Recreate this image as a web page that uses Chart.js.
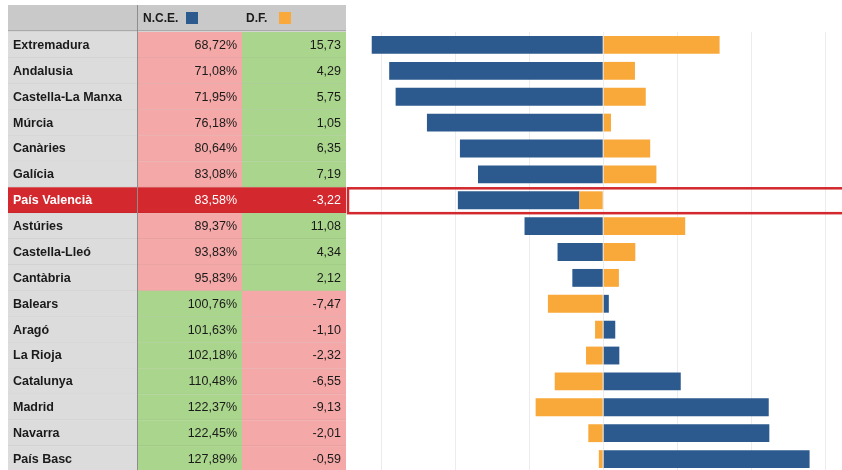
<!DOCTYPE html>
<html>
<head>
<meta charset="utf-8">
<script src="https://cdn.jsdelivr.net/npm/chart.js"></script>
<style>
  html, body { margin: 0; padding: 0; background: #fff; overflow: hidden; }
  #wrap { width: 842px; height: 480px; }
</style>
</head>
<body>
<div id="wrap"><canvas id="chart" width="842" height="480"></canvas></div>
<script>
const regions = ['Extremadura', 'Andalusia', 'Castella-La Manxa', 'Múrcia', 'Canàries', 'Galícia',
    'País Valencià', 'Astúries', 'Castella-Lleó', 'Cantàbria', 'Balears', 'Aragó', 'La Rioja',
    'Catalunya', 'Madrid', 'Navarra', 'País Basc'];
const nce = [68.72, 71.08, 71.95, 76.18, 80.64, 83.08, 83.58, 89.37, 93.83, 95.83,
    100.76, 101.63, 102.18, 110.48, 122.37, 122.45, 127.89];
const df = [15.73, 4.29, 5.75, 1.05, 6.35, 7.19, -3.22, 11.08, 4.34, 2.12,
    -7.47, -1.10, -2.32, -6.55, -9.13, -2.01, -0.59];
const gridValues = [-30, -20, -10, 0, 10, 20, 30];
const highlightRow = 6;

const blue = '#2c5a8e';
const orange = '#f9a83a';
const pink = '#f4a8a7';
const green = '#a9d58c';
const red = '#d2282e';

const fmt = (v) => v.toFixed(2).replace('.', ',');

// Table on the left + highlight box, drawn against the y scale
const tablePlugin = {
    id: 'tablePanel',
    afterDraw(chart) {
        const ctx = chart.ctx;
        const y = chart.scales.y;
        const band = y.height / regions.length;
        const cols = [8, 138, 242, 346];
        ctx.save();

        // header
        ctx.fillStyle = '#c9c9c9';
        ctx.fillRect(cols[0], 5, cols[3] - cols[0], 26);
        ctx.fillStyle = '#a9a9a9';
        ctx.fillRect(cols[0], 30, cols[3] - cols[0], 1.5);
        ctx.font = 'bold 12px "Liberation Sans", Arial, sans-serif';
        ctx.textBaseline = 'middle';
        ctx.fillStyle = '#1a1a1a';
        ctx.fillText('N.C.E.', 143, 18.5);
        ctx.fillText('D.F.', 246, 18.5);
        ctx.fillStyle = blue;
        ctx.fillRect(186, 12, 12, 12);
        ctx.fillStyle = orange;
        ctx.fillRect(279, 12, 12, 12);

        regions.forEach((name, i) => {
            const cy = y.getPixelForValue(i);
            const top = cy - band / 2;
            const hl = i === highlightRow;
            ctx.fillStyle = hl ? red : '#dcdcdc';
            ctx.fillRect(cols[0], top, cols[1] - cols[0], band);
            ctx.fillStyle = hl ? red : (nce[i] < 100 ? pink : green);
            ctx.fillRect(cols[1], top, cols[2] - cols[1], band);
            ctx.fillStyle = hl ? red : (df[i] < 0 ? pink : green);
            ctx.fillRect(cols[2], top, cols[3] - cols[2], band);

            // row separator
            ctx.fillStyle = 'rgba(0,0,0,0.10)';
            ctx.fillRect(cols[0], top + band - 0.5, cols[3] - cols[0], 1);

            ctx.fillStyle = hl ? '#ffffff' : '#1a1a1a';
            ctx.font = 'bold 12.5px "Liberation Sans", Arial, sans-serif';
            ctx.textAlign = 'left';
            ctx.fillText(name, 13, cy + 0.5);
            ctx.font = '12.5px "Liberation Sans", Arial, sans-serif';
            ctx.textAlign = 'right';
            ctx.fillText(fmt(nce[i]) + '%', 237, cy + 0.5);
            ctx.fillText(fmt(df[i]), 341, cy + 0.5);
        });

        // column divider
        ctx.fillStyle = '#8d8d8d';
        ctx.fillRect(cols[1] - 1, 5, 1, chart.height);

        // highlight box across the chart
        const hy = y.getPixelForValue(highlightRow);
        ctx.strokeStyle = red;
        ctx.lineWidth = 2.5;
        ctx.strokeRect(348, hy - band / 2 + 1, 500, band - 1);
        ctx.restore();
    },
};

new Chart(document.getElementById('chart').getContext('2d'), {
    type: 'bar',
    data: {
        labels: regions,
        datasets: [{
            label: 'D.F.',
            data: df,
            backgroundColor: orange,
        }, {
            label: 'N.C.E.',
            data: nce.map((v) => v - 100),
            backgroundColor: blue,
        }],
    },
    options: {
        indexAxis: 'y',
        responsive: false,
        animation: false,
        layout: { padding: { left: 359, right: 2, top: 32, bottom: 8 } },
        datasets: { bar: { categoryPercentage: 1, barPercentage: 0.69 } },
        scales: {
            x: {
                stacked: true,
                min: -33,
                max: 32,
                ticks: { display: false },
                afterBuildTicks(scale) {
                    scale.ticks = gridValues.map((v) => ({ value: v }));
                },
                grid: { color: '#ececec', drawTicks: false },
                border: { display: false },
            },
            y: {
                stacked: true,
                display: false,
            },
        },
        plugins: {
            legend: { display: false },
            tooltip: { enabled: false },
        },
    },
    plugins: [tablePlugin],
});
</script>
</body>
</html>
